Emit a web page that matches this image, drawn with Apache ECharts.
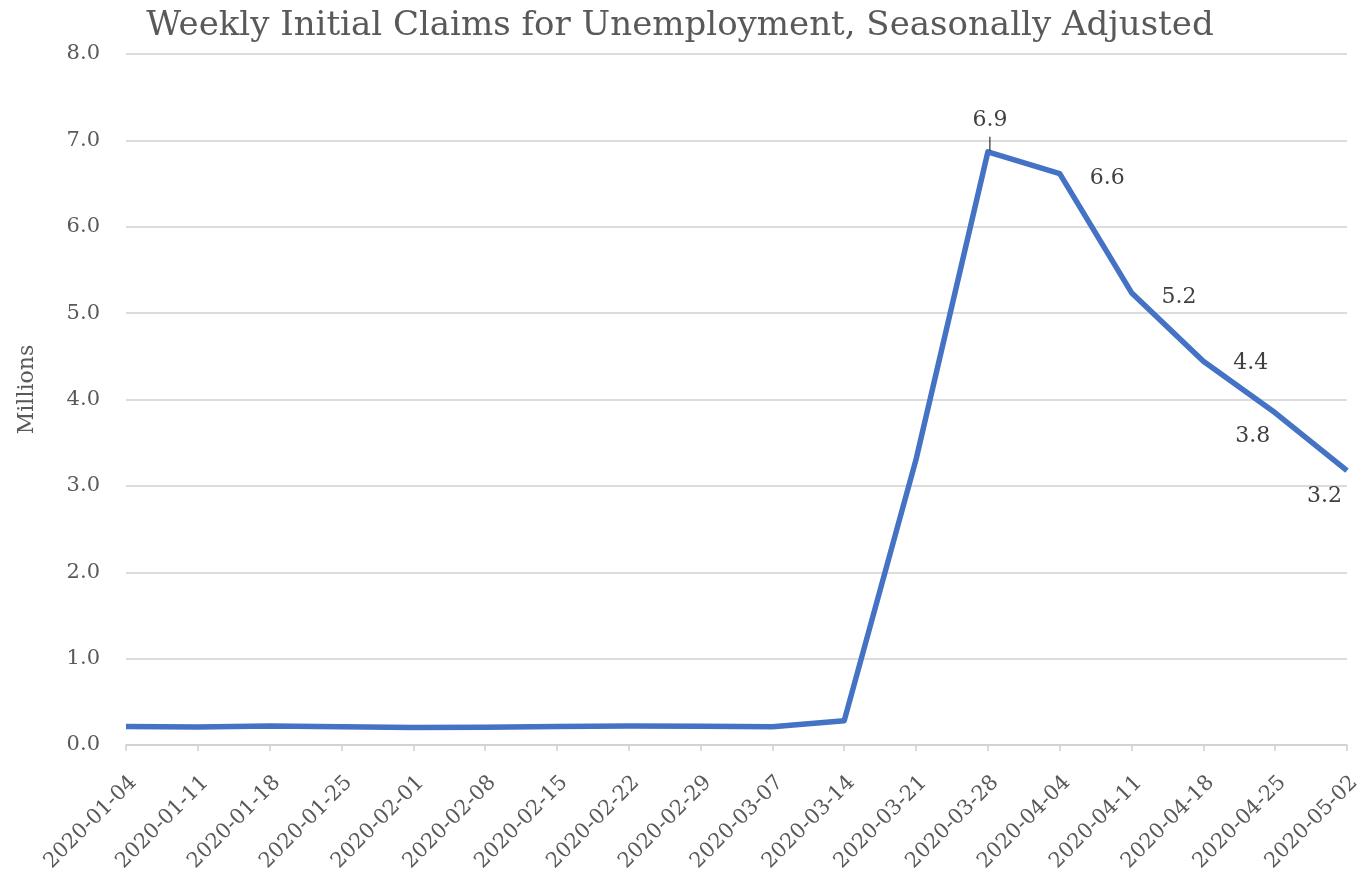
<!DOCTYPE html>
<html>
<head>
<meta charset="utf-8">
<script src="https://cdn.jsdelivr.net/npm/echarts@6/dist/echarts.min.js"></script>
<style>
  html, body { margin: 0; padding: 0; background: #ffffff; }
  #chart { width: 1360px; height: 871px; }
</style>
</head>
<body>
<div id="chart"></div>
<script>
// Week-ending dates
const weeks = [
  '2020-01-04', '2020-01-11', '2020-01-18', '2020-01-25', '2020-02-01',
  '2020-02-08', '2020-02-15', '2020-02-22', '2020-02-29', '2020-03-07',
  '2020-03-14', '2020-03-21', '2020-03-28', '2020-04-04', '2020-04-11',
  '2020-04-18', '2020-04-25', '2020-05-02'
];

// Initial claims, millions, seasonally adjusted
const claims = [
  0.214, 0.207, 0.220, 0.212, 0.203, 0.205, 0.215, 0.219, 0.217, 0.211,
  0.282, 3.307, 6.867, 6.615, 5.237, 4.442, 3.846, 3.176
];

// Which weeks get a value label
const labelled = [12, 13, 14, 15, 16, 17];

const yTicks = { min: 0, max: 8, interval: 1 };

const serif = 'DejaVu Serif';
const textGrey = '#595959';
const labelGrey = '#404040';

// Where each value label sits relative to its point
const labelPlacement = {
  12: { position: 'top', distance: 1, offset: [2, 0], align: 'center' },
  13: { position: 'right', distance: 5, offset: [25, 5] },
  14: { position: 'right', distance: 5, offset: [25, 5] },
  15: { position: 'right', distance: 5, offset: [25, 2] },
  16: { position: 'left', distance: 5, offset: [0, 23] },
  17: { position: 'left', distance: 5, offset: [0, 26] }
};
// The peak label carries a short leader line down to its point
const peakIndex = 12;

const seriesData = claims.map((v, i) => {
  const item = { value: v };
  if (labelled.includes(i)) {
    item.label = Object.assign({ show: true }, labelPlacement[i]);
    if (i === peakIndex) {
      item.label.formatter = p => '{v|' + p.value.toFixed(1) + '}\n{lead| }';
    }
  }
  return item;
});

const chart = echarts.init(document.getElementById('chart'), null, { renderer: 'canvas' });

chart.setOption({
  animation: false,
  backgroundColor: '#ffffff',
  title: {
    text: 'Weekly Initial Claims for Unemployment, Seasonally Adjusted',
    left: 'center',
    top: 4,
    textStyle: {
      fontFamily: serif,
      fontWeight: 'normal',
      fontSize: 34,
      color: textGrey
    }
  },
  grid: { left: 126, right: 13, top: 54, bottom: 126, outerBoundsMode: 'none', containLabel: false },
  xAxis: {
    type: 'category',
    data: weeks,
    boundaryGap: false,
    axisLine: { lineStyle: { color: '#d0d0d0', width: 1.5 } },
    axisTick: { show: true, length: 6, lineStyle: { color: '#d0d0d0', width: 1.5 } },
    axisLabel: {
      rotate: 45,
      interval: 0,
      margin: 27,
      verticalAlign: 'top',
      fontFamily: serif,
      fontSize: 21,
      color: textGrey
    },
    splitLine: { show: false }
  },
  yAxis: {
    type: 'value',
    min: yTicks.min,
    max: yTicks.max,
    interval: yTicks.interval,
    name: 'Millions',
    nameLocation: 'middle',
    nameGap: 88,
    nameTextStyle: { fontFamily: serif, fontSize: 22, color: textGrey, padding: [0, 0, 0, 20] },
    axisLine: { show: false },
    axisTick: { show: false },
    axisLabel: {
      margin: 26,
      fontFamily: serif,
      fontSize: 21,
      color: textGrey,
      formatter: v => v.toFixed(1)
    },
    splitLine: { lineStyle: { color: '#d0d0d0', width: 1.5 } }
  },
  series: [{
    type: 'line',
    data: seriesData,
    showSymbol: true,
    symbol: 'circle',
    symbolSize: 0,
    lineStyle: { color: '#4472C4', width: 5.5, join: 'round' },
    itemStyle: { color: '#4472C4' },
    label: {
      show: false,
      fontFamily: serif,
      fontSize: 22,
      color: labelGrey,
      formatter: p => p.value.toFixed(1),
      rich: {
        v: { fontFamily: serif, fontSize: 22, color: labelGrey, lineHeight: 28, verticalAlign: 'top' },
        lead: { width: 1.2, height: 14, backgroundColor: '#303030', fontSize: 1, lineHeight: 14 }
      }
    }
  }]
});
</script>
</body>
</html>
